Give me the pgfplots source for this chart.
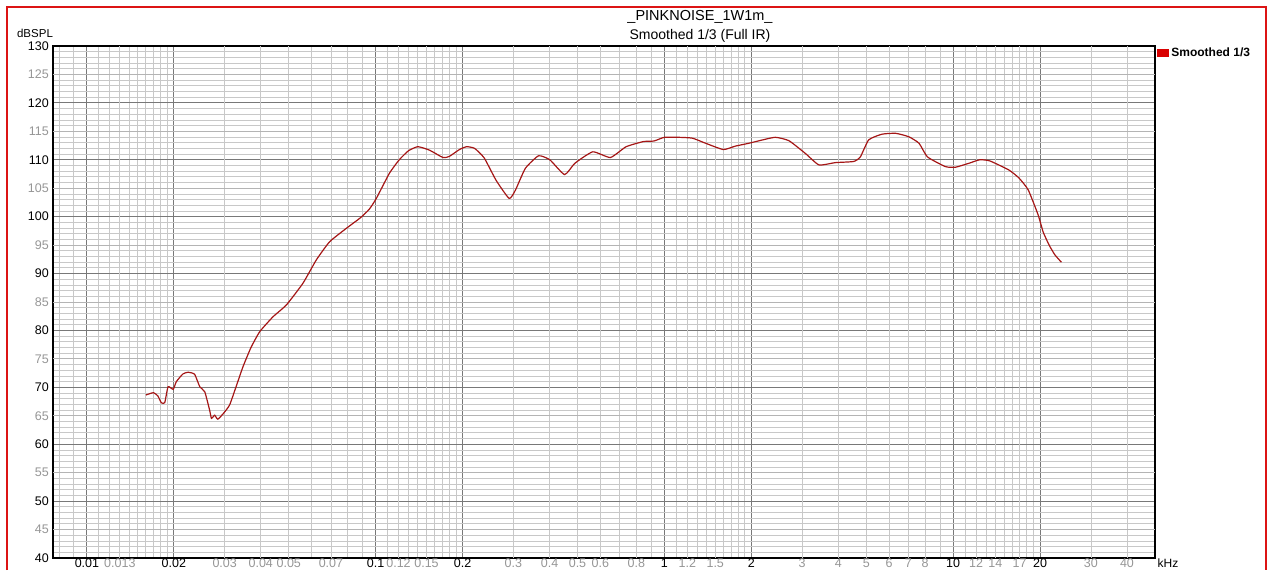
\documentclass[border=0pt]{standalone}
\usepackage{fontspec}
\setmainfont{Liberation Sans}
\usepackage{pgfplots}
\pgfplotsset{compat=1.18}
\definecolor{darkgrid}{RGB}{120,120,120}
\definecolor{lightgrid}{RGB}{200,200,200}
\definecolor{midgrid}{RGB}{180,180,180}
\definecolor{graylabel}{RGB}{150,150,150}
\definecolor{curve}{RGB}{165,22,22}
\definecolor{frame}{RGB}{220,20,20}
\begin{document}
\begin{tikzpicture}
\path[use as bounding box] (0pt,0pt) rectangle (1268pt,570pt);
\draw[frame, line width=2pt] (7pt,0pt) -- (7pt,563pt) -- (1266pt,563pt) -- (1266pt,0pt);
\begin{axis}[
  at={(53pt,12pt)}, anchor=south west,
  scale only axis, width=1102pt, height=512pt,
  xmode=log, log basis x=10,
  xmin=0.00763, xmax=50, ymin=40, ymax=130,
  xtick={0.01,0.02,0.1,0.2,1,2,10,20},
  xticklabels={0.01,0.02,0.1,0.2,1,2,10,20},
  extra x ticks={0.013,0.03,0.04,0.05,0.07,0.12,0.15,0.3,0.4,0.5,0.6,0.8,1.2,1.5,3,4,5,6,7,8,12,14,17,30,40},
  extra x tick labels={0.013,0.03,0.04,0.05,0.07,0.12,0.15,0.3,0.4,0.5,0.6,0.8,1.2,1.5,3,4,5,6,7,8,12,14,17,30,40},
  extra x tick style={grid=major, major grid style={lightgrid, line width=0.8pt}, tick label style={text=graylabel}},
  minor xtick={0.008,0.009,0.011,0.012,0.013,0.014,0.015,0.016,0.017,0.018,0.019,0.03,0.04,0.05,0.06,0.07,0.08,0.09,
    0.11,0.12,0.13,0.14,0.15,0.16,0.17,0.18,0.19,0.3,0.4,0.5,0.6,0.7,0.8,0.9,
    1.1,1.2,1.3,1.4,1.5,1.6,1.7,1.8,1.9,3,4,5,6,7,8,9,11,12,13,14,15,16,17,18,19,30,40},
  ytick={40,50,...,130},
  yticklabels={40,50,60,70,80,90,100,110,120,130},
  extra y ticks={45,55,...,125},
  extra y tick labels={45,55,65,75,85,95,105,115,125},
  extra y tick style={grid=major, major grid style={midgrid, line width=0.8pt}, tick label style={text=graylabel}},
  minor ytick={41,...,129},
  grid=both,
  major grid style={darkgrid, line width=0.9pt},
  minor grid style={lightgrid, line width=0.8pt},
  major tick length=0pt, minor tick length=0pt,
  tick style={draw=none},
  axis line style={black, line width=1.2pt},
  tick label style={font=\fontsize{12.5}{14}\selectfont},
  xticklabel style={anchor=north, yshift=0pt, inner sep=1pt},
  yticklabel style={anchor=east, xshift=-2pt, inner sep=2pt},
  legend style={draw=none, fill=none, at={(axis description cs:1.0,1.0)}, anchor=north west,
    font=\bfseries\fontsize{12}{14}\selectfont, inner sep=1pt, yshift=1pt, xshift=1pt},
  legend cell align=left,
  legend image code/.code={\fill[red!85!black] (0pt,-3.5pt) rectangle (11pt,3.5pt);},
]
\addplot[curve, line width=1.2pt, smooth, tension=0.3] coordinates {
(0.0160,68.65) (0.0170,69.06) (0.0176,68.5) (0.0181,67.3) (0.0186,67.3) (0.0191,70.1) (0.0199,69.65)
(0.0204,71.0) (0.0215,72.35) (0.0224,72.65) (0.0236,72.3) (0.0246,70.1) (0.0256,69.2) (0.0266,66.0)
(0.0270,64.55) (0.0277,65.1) (0.0284,64.4) (0.0298,65.5) (0.0312,66.9) (0.0328,70.0) (0.0347,73.6)
(0.0370,77.0) (0.0397,79.8) (0.0441,82.4) (0.0491,84.5) (0.0560,88.3) (0.0623,92.4) (0.0693,95.6)
(0.0794,98.0) (0.0885,99.8) (0.0950,101.3) (0.1005,103.2) (0.1115,107.6) (0.1207,110.0) (0.1300,111.6)
(0.1400,112.3) (0.1535,111.7) (0.1710,110.4) (0.1800,110.6) (0.1950,111.8) (0.2066,112.3) (0.2202,112.0)
(0.2378,110.3) (0.2612,106.4) (0.2900,103.2) (0.3050,104.7) (0.3300,108.5) (0.3665,110.7) (0.4010,110.0)
(0.4510,107.4) (0.4900,109.4) (0.5650,111.4) (0.6500,110.4) (0.7370,112.3) (0.8460,113.2) (0.9200,113.3)
(1.0000,113.95) (1.1200,113.95) (1.2500,113.8) (1.3900,112.9) (1.6000,111.8) (1.7600,112.4) (1.9600,112.9)
(2.1300,113.35) (2.4200,113.95) (2.7000,113.35) (3.0800,111.1) (3.4300,109.1) (3.9100,109.5) (4.5200,109.7)
(4.7700,110.5) (5.1000,113.5) (5.6700,114.5) (6.3300,114.65) (7.0200,114.05) (7.6200,112.9) (8.1500,110.5)
(9.4000,108.8) (10.200,108.7) (11.36,109.4) (12.36,110.0) (13.4,109.8) (15.6,108.2) (16.9,106.8)
(18.2,104.7) (19.7,100.3) (20.5,97.3) (21.5,95.0) (22.5,93.3) (23.7,92.0)
};
\addlegendentry{Smoothed 1/3}
\end{axis}
\node[font=\fontsize{14.5}{16}\selectfont, anchor=center] at (700pt,553pt) {\_PINKNOISE\_1W1m\_};
\node[font=\fontsize{14}{16}\selectfont, anchor=center] at (700pt,534pt) {Smoothed 1/3 (Full IR)};
\node[font=\fontsize{11.5}{13}\selectfont, anchor=center] at (35pt,537pt) {dBSPL};
\node[font=\fontsize{12}{13}\selectfont, anchor=base, inner sep=0pt] at (1168pt,3pt) {kHz};
\end{tikzpicture}
\end{document}
